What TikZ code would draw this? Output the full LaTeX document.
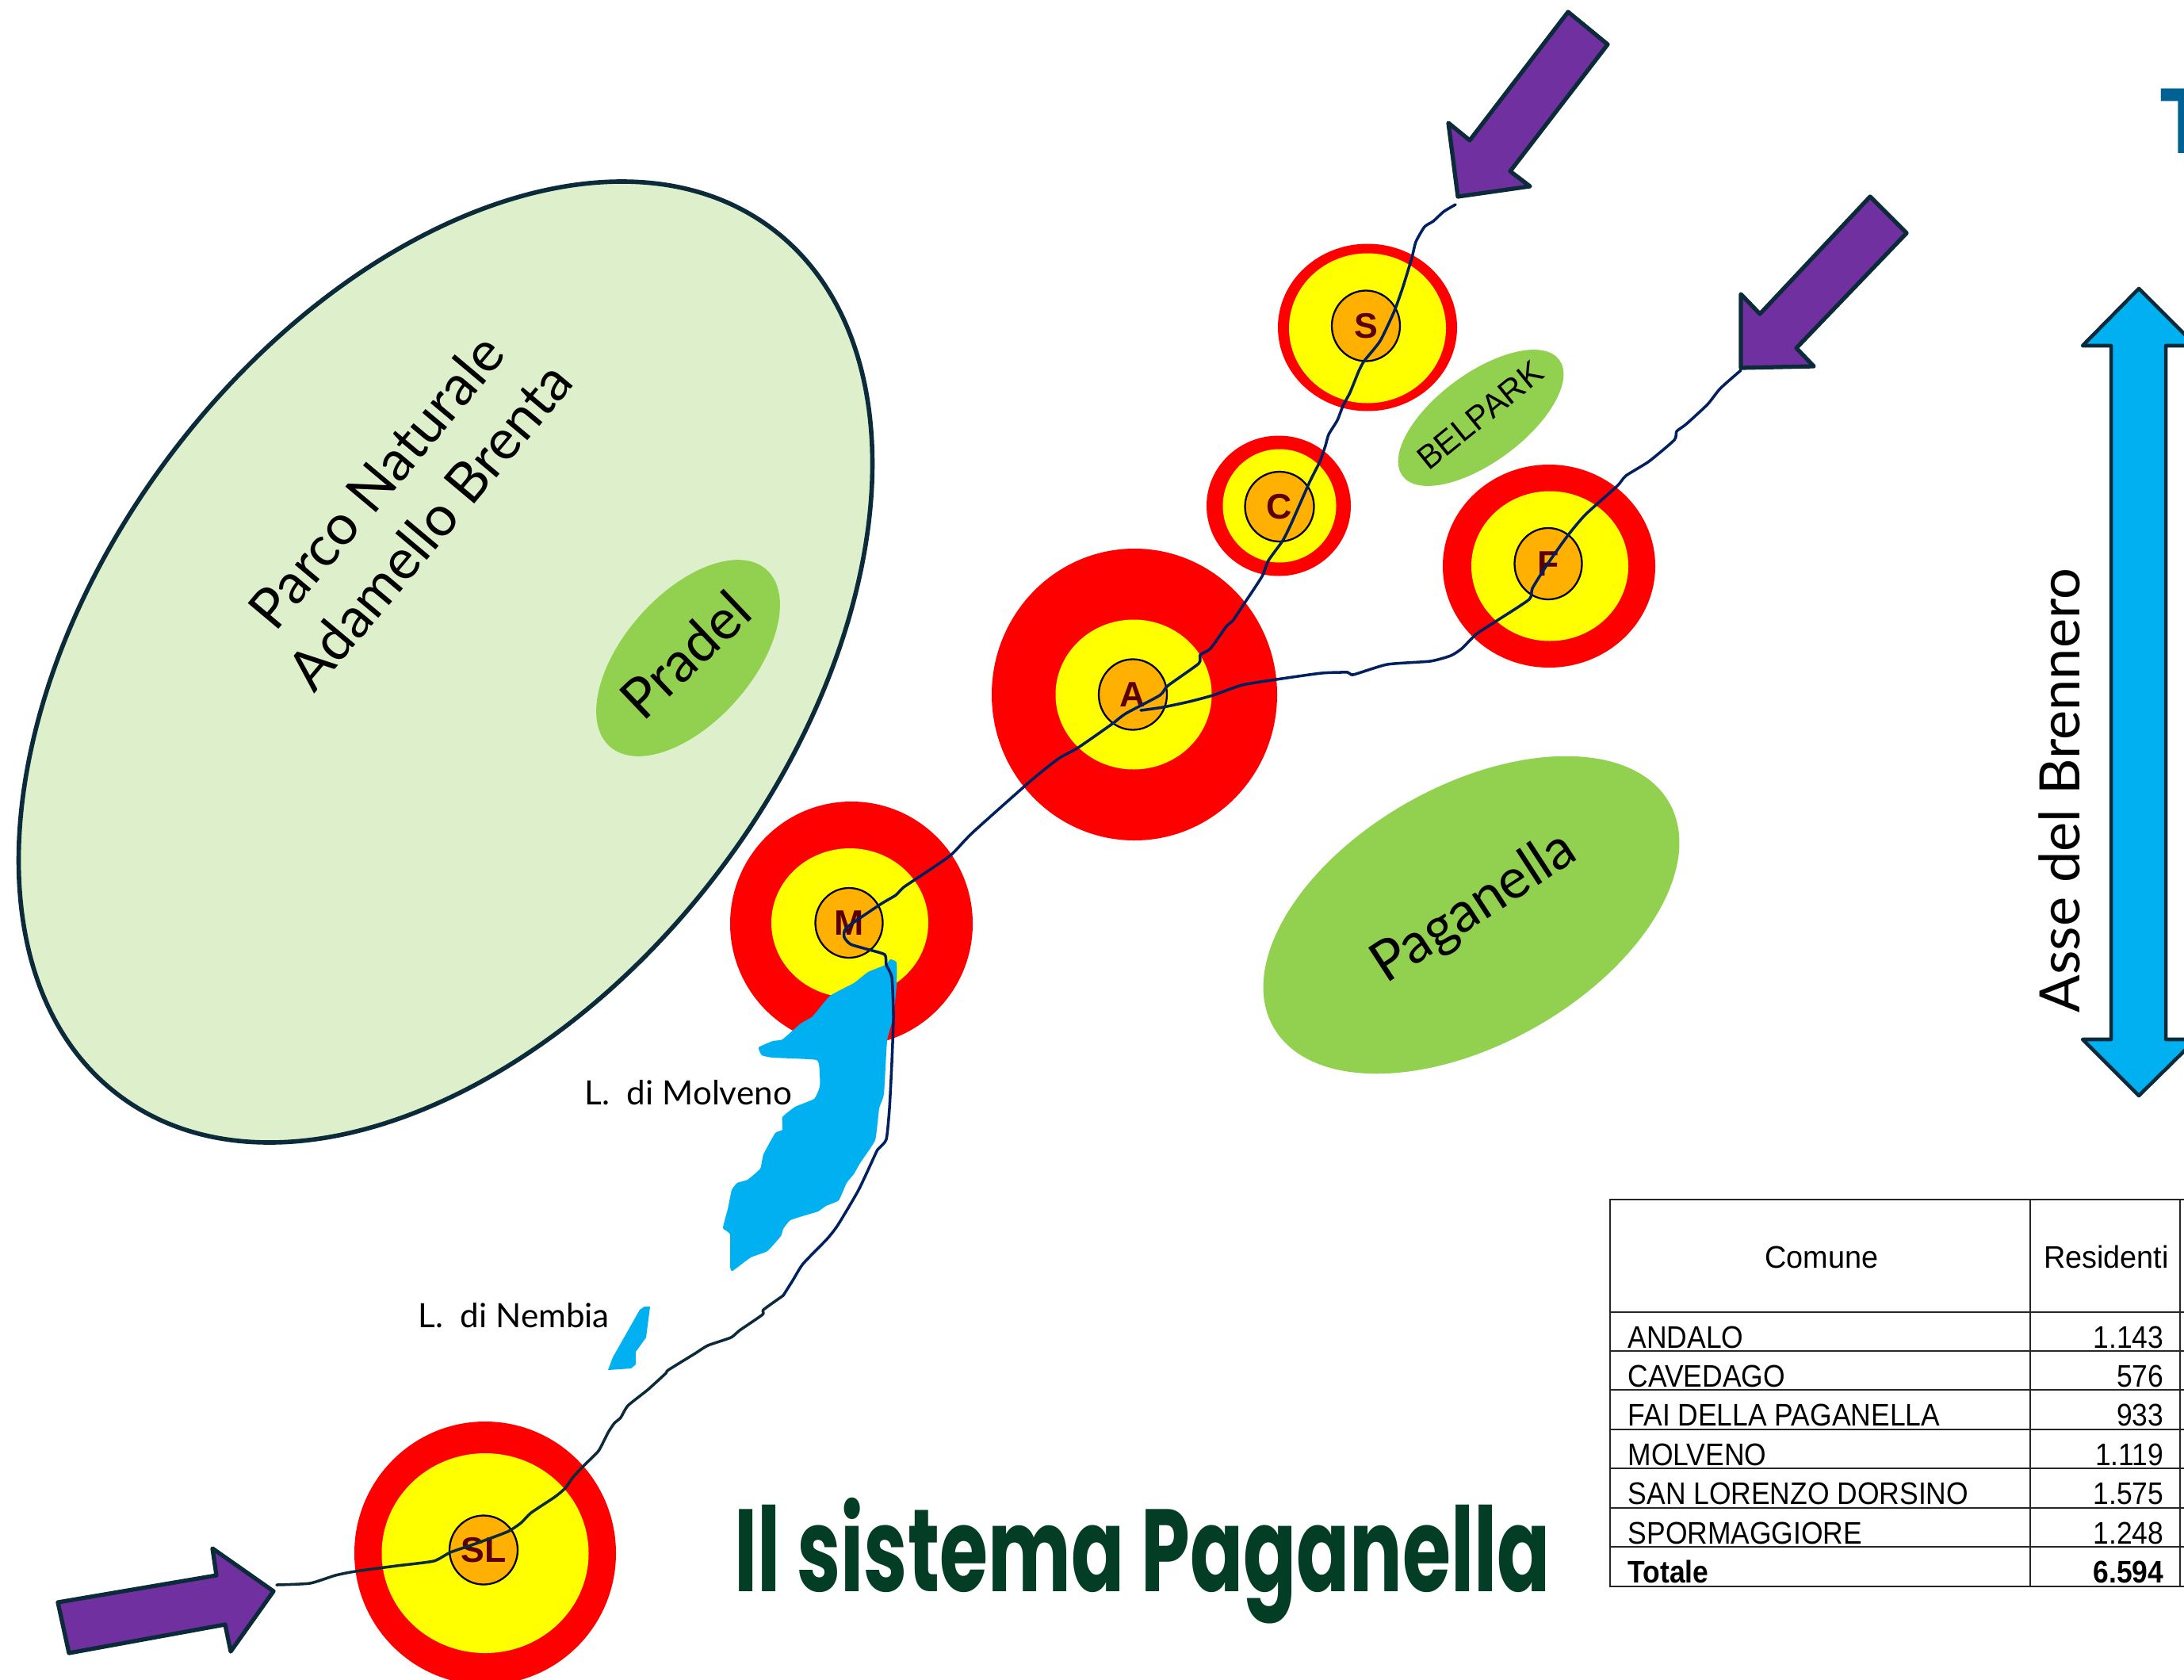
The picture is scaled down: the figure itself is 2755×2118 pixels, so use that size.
\documentclass[tikz,border=0pt]{standalone}
\usepackage{fontspec}
\setmainfont{Lato}
\newfontfamily\arialfont{Liberation Sans}
\newfontfamily\rowfont[FakeStretch=0.9]{Liberation Sans}
\newfontfamily\headfont[FakeStretch=0.96]{Liberation Sans}
\newfontfamily\titlefont[FakeStretch=0.67]{Poppins}
\newfontfamily\tcutfont{Poppins}
\usetikzlibrary{shapes.geometric}
\definecolor{lineblue}{HTML}{0B2B3B}
\definecolor{roadnavy}{HTML}{002060}
\definecolor{letterred}{HTML}{5A0000}
\definecolor{ringred}{RGB}{255,0,0}
\definecolor{ringyellow}{RGB}{255,255,0}
\definecolor{townorange}{RGB}{255,176,0}
\definecolor{hillgreen}{RGB}{146,208,80}
\definecolor{parkgreen}{RGB}{222,240,203}
\definecolor{lakeblue}{RGB}{0,176,240}
\definecolor{arrowpurple}{RGB}{112,48,160}
\definecolor{titlegreen}{RGB}{3,61,38}
\definecolor{tcutblue}{RGB}{0,98,146}
\begin{document}
\begin{tikzpicture}[x=.01cm,y=-.01cm,
  ring/.style n args={3}{ellipse,fill=#1,inner sep=0,outer sep=0,minimum width=#2*.01cm,minimum height=#3*.01cm},
  town/.style n args={2}{ellipse,draw=black,line width=.65pt,fill=townorange,inner sep=0,outer sep=0,minimum width=#1*.01cm,minimum height=#2*.01cm,text=letterred,font=\arialfont\bfseries\fontsize{12.7}{14}\selectfont},
  hill/.style n args={2}{ellipse,fill=hillgreen,inner sep=0,minimum width=#1*.01cm,minimum height=#2*.01cm},
  arrowbox/.style={draw=lineblue,line width=1.5pt,line join=round,fill=arrowpurple},
  road/.style={draw=roadnavy,line width=1pt,line cap=round,line join=round},
  bigtext/.style={font=\fontsize{20}{25}\selectfont},
  laketext/.style={font=\fontsize{12}{14}\selectfont},
  cell/.style={font=\rowfont\fontsize{11.2}{13}\selectfont,inner sep=0},
  headcell/.style={font=\headfont\fontsize{11.2}{13}\selectfont,inner sep=0},
  totalcell/.style={font=\rowfont\bfseries\fontsize{11.2}{13}\selectfont,inner sep=0},
  rule/.style={draw=black!85,line width=.6pt}]
\useasboundingbox (0,0) rectangle (2755,2118);
\clip (0,0) rectangle (2755,2118);

\node [ellipse,draw=lineblue,line width=1.6pt,fill=parkgreen,inner sep=0,rotate=53,minimum width=13.68cm,minimum height=8.68cm] (parco) at (562,835) {};
\node [rotate=50,align=center,bigtext] (parcotext) at (508,635) {Parco Naturale\\Adamello Brenta};
\node [hill={298}{162},rotate=48.5] (pradel) at (868,830) {};
\node [rotate=43.5,bigtext] (pradeltext) at (864,826) {Pradel};
\node [hill={574}{326},rotate=29.5] (paganella) at (1856,1154) {};
\node [rotate=33,bigtext] (paganellatext) at (1860,1146) {Paganella};
\node [hill={246}{112},rotate=36.5] (belpark) at (1868,527) {};
\node [rotate=39,font=\arialfont\fontsize{11.9}{14}\selectfont] (belparktext) at (1867,524) {BELPARK};

\node [ring={ringred}{226}{211}] (rs) at (1725,413) {};
\node [ring={ringyellow}{198}{189}] (ys) at (1725,414) {};
\node [town={86}{89}] (s) at (1723,411) {S};
\node [ring={ringred}{182}{177}] (rc) at (1613,638) {};
\node [ring={ringyellow}{143}{143}] (yc) at (1614,638) {};
\node [town={87}{88}] (c) at (1614,639) {C};
\node [ring={ringred}{268}{256}] (rf) at (1954,714) {};
\node [ring={ringyellow}{198}{189}] (yf) at (1955,714) {};
\node [town={85}{90}] (f) at (1953,711) {F};
\node [ring={ringred}{360}{368}] (ra) at (1431,876) {};
\node [ring={ringyellow}{197}{189}] (ya) at (1430,876) {};
\node [town={86}{89}] (a) at (1429,876) {A};
\node [ring={ringred}{306}{308}] (rm) at (1074,1165) {};
\node [ring={ringyellow}{198}{188}] (ym) at (1072,1164) {};
\node [town={85}{88}] (m) at (1071,1164) {M};
\node [ring={ringred}{330}{332}] (rsl) at (612,1959) {};
\node [ring={ringyellow}{261}{252}] (ysl) at (612,1959) {};
\node [town={86}{87}] (sl) at (610,1955) {SL};

\fill [lakeblue] plot [smooth cycle,tension=.25] coordinates {(1123,1210) (1131,1214) (1131,1242) (1127,1282) (1119,1313) (1115,1380) (1109,1398) (1104,1438) (1085,1467) (1077,1481) (1068,1492) (1058,1514) (1042,1521) (1032,1528) (1022,1531) (997,1539) (988,1550) (985,1559) (968,1578) (947,1586) (924,1603) (921,1597) (921,1557) (912,1549) (918,1525) (923,1501) (930,1492) (943,1488) (959,1474) (963,1456) (978,1429) (987,1425) (987,1409) (1003,1396) (1027,1386) (1034,1371) (1034,1354) (1030,1337) (975,1334) (961,1331) (957,1321) (975,1313) (987,1311) (1010,1291) (1025,1282) (1047,1256) (1077,1240) (1095,1226) (1117,1217)};
\fill [lakeblue] (820,1648) -- (815,1687) -- (802,1705) -- (802,1721) -- (796,1726) -- (767,1728) -- (773,1712) -- (807,1652) -- (813,1648) -- cycle;
\node [laketext,anchor=base west,inner sep=0] (molveno) at (737,1393) {L.\ \ di Molveno};
\node [laketext,anchor=base west,inner sep=0] (nembia) at (527,1674) {L.\ \ di Nembia};

\draw [arrowbox] (1978,15) -- (2028,56) -- (1905,216) -- (1930,235) -- (1839,248) -- (1827,155) -- (1854,177) -- cycle;
\draw [arrowbox] (2359,248) -- (2405,294) -- (2266,439) -- (2288,462) -- (2196,464) -- (2196,371) -- (2220,396) -- cycle;
\draw [arrowbox] (73,2021) -- (273,1987) -- (268,1953) -- (345,2007) -- (291,2083) -- (284,2049) -- (87,2085) -- cycle;

\coordinate (sin) at (1836,258);
\coordinate (fin) at (2196,467);
\coordinate (slin) at (349,1999);
\coordinate (bend) at (988,1634);
\coordinate (junction) at (1439,896);

\draw [road,draw=lineblue] plot [smooth,tension=.35] coordinates {(slin) (391,1997) (423,1987) (448,1982) (500,1975) (547,1969) (568,1958) (600,1947) (640,1932) (657,1921) (670,1908) (700,1888) (713,1877) (723,1863) (737,1848) (755,1830) (767,1807) (775,1795) (783,1788) (792,1773) (817,1753) (840,1732) (843,1728) (877,1707) (893,1697) (922,1687) (933,1678) (962,1658) (963,1652) (bend)};
\draw [road] plot [smooth,tension=.35] coordinates {(bend) (1000,1615) (1013,1594) (1043,1563) (1057,1545) (1083,1501) (1105,1454) (1108,1449) (1118,1437) (1122,1398) (1125,1340) (1127,1282) (1125,1233) (1118,1217) (1116,1204) (1093,1197) (1073,1191) (1065,1182) (1068,1170) (1110,1141) (1130,1129) (1140,1119) (1170,1099) (1200,1078) (1227,1050) (1300,985) (1335,957) (1360,943) (1403,913) (1420,900) (1463,877) (1473,865) (1512,837) (1514,826) (1527,818) (1547,790) (1555,783) (1569,762) (1592,727) (1600,707) (1618,682) (1629,660) (1652,608) (1665,582) (1672,562) (1676,548) (1687,530) (1694,512) (1703,495) (1714,468) (1721,455) (1741,430) (1759,392) (1770,361) (1781,325) (1786,305) (1797,286) (1808,279) (1821,267) (sin)};
\draw [road] plot [smooth,tension=.35] coordinates {(junction) (1467,892) (1500,885) (1530,877) (1567,864) (1610,857) (1667,849) (1700,848) (1707,851) (1750,838) (1804,834) (1830,827) (1844,818) (1862,800) (1888,783) (1929,756) (1933,742) (1951,713) (1978,675) (2000,649) (2040,613) (2051,600) (2080,582) (2112,555) (2115,544) (2127,535) (2154,510) (2170,490) (fin)};

\node [bigtext,rotate=90] (asse) at (2598,997) {Asse del Brennero};
\draw [arrowbox,fill=lakeblue,line width=1.3pt] (2698,364) -- (2770,436) -- (2732,436) -- (2732,1311) -- (2770,1311) -- (2698,1382) -- (2627,1311) -- (2663,1311) -- (2663,436) -- (2627,436) -- cycle;
\node [font=\tcutfont\bfseries\fontsize{33}{40}\selectfont,text=tcutblue,anchor=base,inner sep=0] (tcut) at (2758,193) {T};
\node [font=\titlefont\bfseries\fontsize{42}{50}\selectfont,text=titlegreen,anchor=base,inner sep=0] (title) at (1441,2007) {Il sistema Paganella};

\draw [rule] (2031,1513) rectangle (2770,2001);
\draw [rule] (2561,1513) -- (2561,2001);
\draw [rule] (2750,1513) -- (2750,2001);
\draw [rule] (2031,1655) -- (2770,1655);
\draw [rule] (2031,1704) -- (2770,1704);
\draw [rule] (2031,1753) -- (2770,1753);
\draw [rule] (2031,1803) -- (2770,1803);
\draw [rule] (2031,1852) -- (2770,1852);
\draw [rule] (2031,1902) -- (2770,1902);
\draw [rule] (2031,1951) -- (2770,1951);
\node [headcell,anchor=base] (comune) at (2298,1599) {Comune};
\node [headcell,anchor=base] (residenti) at (2657,1599) {Residenti};
\node [cell,anchor=base west] (andalo) at (2053,1700) {ANDALO};
\node [cell,anchor=base east] (randalo) at (2730,1700) {1.143};
\node [cell,anchor=base west] (cavedago) at (2053,1749) {CAVEDAGO};
\node [cell,anchor=base east] (rcavedago) at (2730,1749) {576};
\node [cell,anchor=base west] (fai) at (2053,1798) {FAI DELLA PAGANELLA};
\node [cell,anchor=base east] (rfai) at (2730,1798) {933};
\node [cell,anchor=base west] (molv) at (2053,1848) {MOLVENO};
\node [cell,anchor=base east] (rmolv) at (2730,1848) {1.119};
\node [cell,anchor=base west] (sanlor) at (2053,1897) {SAN LORENZO DORSINO};
\node [cell,anchor=base east] (rsanlor) at (2730,1897) {1.575};
\node [cell,anchor=base west] (spor) at (2053,1947) {SPORMAGGIORE};
\node [cell,anchor=base east] (rspor) at (2730,1947) {1.248};
\node [totalcell,anchor=base west] (totale) at (2053,1996) {Totale};
\node [totalcell,anchor=base east] (rtotale) at (2730,1996) {6.594};
\end{tikzpicture}
\end{document}
